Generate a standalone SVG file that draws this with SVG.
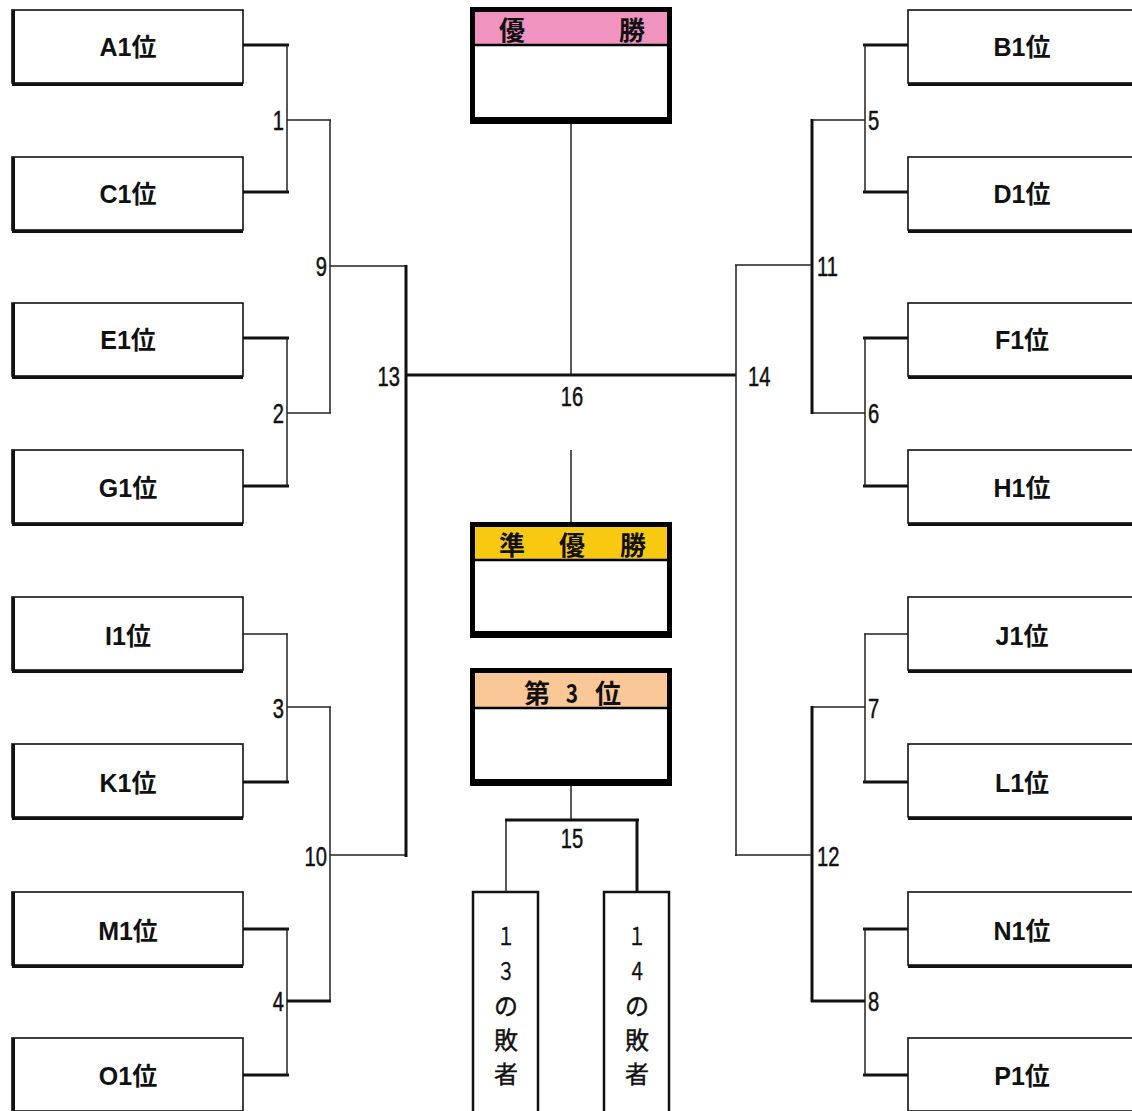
<svg xmlns="http://www.w3.org/2000/svg" width="1132" height="1111" viewBox="0 0 1132 1111">
<style>
.lbox{fill:#fff;stroke:#111;stroke-width:1.6}
.edge{stroke:#111;stroke-width:3;fill:none}
.thin{stroke:#222;stroke-width:1.5;fill:none}
.thick{stroke:#111;stroke-width:3;fill:none}
.name{font-family:"Liberation Sans","Noto Sans CJK JP",sans-serif;font-weight:bold;font-size:25px;text-anchor:middle;fill:#111}
.num{font-family:"Liberation Sans","Noto Sans CJK JP",sans-serif;font-size:28px;fill:#111;stroke:#111;stroke-width:0.5}
.hdr{font-family:"Noto Sans CJK JP",sans-serif;font-size:26px;font-weight:bold;text-anchor:middle;fill:#111}
.vt{font-family:"Noto Sans CJK JP",sans-serif;font-size:24px;text-anchor:middle;fill:#111;stroke:#111;stroke-width:0.4}
.cbox{fill:#fff;stroke:#000;stroke-width:5}
</style>
<defs>
<g id="leftbox">
<rect class="lbox" x="12" y="0" width="231" height="73"/>
<path class="edge" d="M13.5 0V74.5H243"/>
</g>
<g id="rightbox">
<rect class="lbox" x="908" y="0" width="240" height="73"/>
<path class="edge" d="M908 74.5H1132"/>
</g>
</defs>

<g id="node-A1"><use href="#leftbox" y="10"/><text class="name" x="128" y="56">A1位</text></g>
<g id="node-C1"><use href="#leftbox" y="157"/><text class="name" x="128" y="203">C1位</text></g>
<g id="node-E1"><use href="#leftbox" y="303"/><text class="name" x="128" y="349">E1位</text></g>
<g id="node-G1"><use href="#leftbox" y="450"/><text class="name" x="128" y="497">G1位</text></g>
<g id="node-I1"><use href="#leftbox" y="597"/><text class="name" x="128" y="645">I1位</text></g>
<g id="node-K1"><use href="#leftbox" y="744"/><text class="name" x="128" y="792">K1位</text></g>
<g id="node-M1"><use href="#leftbox" y="892"/><text class="name" x="128" y="940">M1位</text></g>
<g id="node-O1"><use href="#leftbox" y="1038"/><text class="name" x="128" y="1085">O1位</text></g>

<g id="node-B1"><use href="#rightbox" y="10"/><text class="name" x="1022" y="56">B1位</text></g>
<g id="node-D1"><use href="#rightbox" y="157"/><text class="name" x="1022" y="203">D1位</text></g>
<g id="node-F1"><use href="#rightbox" y="303"/><text class="name" x="1022" y="349">F1位</text></g>
<g id="node-H1"><use href="#rightbox" y="450"/><text class="name" x="1022" y="497">H1位</text></g>
<g id="node-J1"><use href="#rightbox" y="597"/><text class="name" x="1022" y="645">J1位</text></g>
<g id="node-L1"><use href="#rightbox" y="744"/><text class="name" x="1022" y="792">L1位</text></g>
<g id="node-N1"><use href="#rightbox" y="892"/><text class="name" x="1022" y="940">N1位</text></g>
<g id="node-P1"><use href="#rightbox" y="1038"/><text class="name" x="1022" y="1085">P1位</text></g>

<g id="node-winner">
<rect class="cbox" x="472.5" y="9.5" width="197" height="112"/>
<rect x="475" y="12" width="192" height="32" fill="#F093BF"/>
<line x1="475" y1="45" x2="667" y2="45" stroke="#000" stroke-width="2.5"/>
<line x1="470" y1="120.5" x2="672" y2="120.5" stroke="#000" stroke-width="7"/>
<text class="hdr" x="512" y="40">優</text>
<text class="hdr" x="632" y="40">勝</text>
</g>

<g id="node-runnerup">
<rect class="cbox" x="472.5" y="524.5" width="197" height="111"/>
<rect x="475" y="527" width="192" height="32" fill="#F8C911"/>
<line x1="475" y1="560" x2="667" y2="560" stroke="#000" stroke-width="2.5"/>
<line x1="470" y1="634.5" x2="672" y2="634.5" stroke="#000" stroke-width="7"/>
<text class="hdr" x="512" y="555">準</text>
<text class="hdr" x="572" y="555">優</text>
<text class="hdr" x="633" y="555">勝</text>
</g>

<g id="node-third">
<rect class="cbox" x="472.5" y="670.5" width="197" height="113"/>
<rect x="475" y="673" width="192" height="34" fill="#FAC896"/>
<line x1="475" y1="708" x2="667" y2="708" stroke="#000" stroke-width="2.5"/>
<line x1="470" y1="782.5" x2="672" y2="782.5" stroke="#000" stroke-width="7"/>
<text class="hdr" x="537" y="703">第</text>
<text class="hdr" x="572" y="703" transform="translate(572 0) scale(0.8 1) translate(-572 0)">3</text>
<text class="hdr" x="608" y="703">位</text>
</g>

<g id="node-loser13">
<rect x="473" y="892" width="65" height="225" fill="#fff" stroke="#111" stroke-width="2.5"/>
<text class="vt" x="506" y="945" transform="translate(506 0) scale(0.75 1) translate(-506 0)">１</text>
<text class="vt" x="506" y="980" transform="translate(506 0) scale(0.75 1) translate(-506 0)">３</text>
<text class="vt" x="506" y="1015">の</text>
<text class="vt" x="506" y="1049">敗</text>
<text class="vt" x="506" y="1083">者</text>
</g>
<g id="node-loser14">
<rect x="604" y="892" width="65" height="225" fill="#fff" stroke="#111" stroke-width="2.5"/>
<text class="vt" x="637" y="945" transform="translate(637 0) scale(0.75 1) translate(-637 0)">１</text>
<text class="vt" x="637" y="980" transform="translate(637 0) scale(0.75 1) translate(-637 0)">４</text>
<text class="vt" x="637" y="1015">の</text>
<text class="vt" x="637" y="1049">敗</text>
<text class="vt" x="637" y="1083">者</text>
</g>

<g id="connectors">
<path class="thick" d="M243 45H289M243 192H289M243 338H289M243 486H289M243 929H289M243 1075H289"/>
<path class="thin" d="M243 634H288M287 45V192M287 338V486M287 634V782M287 929V1075"/>
<path class="thick" d="M243 782H289"/>
<path class="thin" d="M287 120H331M287 413H331M287 707H331M330 120V413M330 707V1001"/>
<path class="thick" d="M287 1001H331"/>
<path class="thin" d="M330 266H407M330 855H407"/>
<path class="thick" d="M406 265V857M406 375H736"/>
<path class="thick" d="M863 45H908M863 192H908M863 338H908M863 486H908M863 782H908M863 929H908M863 1075H908"/>
<path class="thin" d="M864 634H908M865 45V192M865 338V486M865 634V782M865 929V1075"/>
<path class="thin" d="M811 120H865M811 413H865M811 707H865"/>
<path class="thick" d="M812 119V414M812 706V1002M811 1001H865"/>
<path class="thin" d="M735 265H812M735 855H812M736 265V856"/>
<path class="thin" stroke="#444" d="M571 124V375M571 450V522M571 786V820M506 820V892"/>
<path class="thick" d="M505 820H639M637 819V892"/>
</g>

<g id="labels">
<text class="num" x="284" y="130" text-anchor="end" transform="translate(284 0) scale(0.72 1) translate(-284 0)">1</text>
<text class="num" x="327" y="276" text-anchor="end" transform="translate(327 0) scale(0.72 1) translate(-327 0)">9</text>
<text class="num" x="400" y="386" text-anchor="end" transform="translate(400 0) scale(0.72 1) translate(-400 0)">13</text>
<text class="num" x="284" y="423" text-anchor="end" transform="translate(284 0) scale(0.72 1) translate(-284 0)">2</text>
<text class="num" x="284" y="718" text-anchor="end" transform="translate(284 0) scale(0.72 1) translate(-284 0)">3</text>
<text class="num" x="327" y="866" text-anchor="end" transform="translate(327 0) scale(0.72 1) translate(-327 0)">10</text>
<text class="num" x="284" y="1011" text-anchor="end" transform="translate(284 0) scale(0.72 1) translate(-284 0)">4</text>
<text class="num" x="868" y="130" transform="translate(868 0) scale(0.72 1) translate(-868 0)">5</text>
<text class="num" x="817" y="276" transform="translate(817 0) scale(0.72 1) translate(-817 0)">11</text>
<text class="num" x="748" y="386" transform="translate(748 0) scale(0.72 1) translate(-748 0)">14</text>
<text class="num" x="868" y="423" transform="translate(868 0) scale(0.72 1) translate(-868 0)">6</text>
<text class="num" x="868" y="718" transform="translate(868 0) scale(0.72 1) translate(-868 0)">7</text>
<text class="num" x="817" y="866" transform="translate(817 0) scale(0.72 1) translate(-817 0)">12</text>
<text class="num" x="868" y="1011" transform="translate(868 0) scale(0.72 1) translate(-868 0)">8</text>
<text class="num" x="572" y="406" text-anchor="middle" transform="translate(572 0) scale(0.72 1) translate(-572 0)">16</text>
<text class="num" x="572" y="848" text-anchor="middle" transform="translate(572 0) scale(0.72 1) translate(-572 0)">15</text>
</g>
</svg>
